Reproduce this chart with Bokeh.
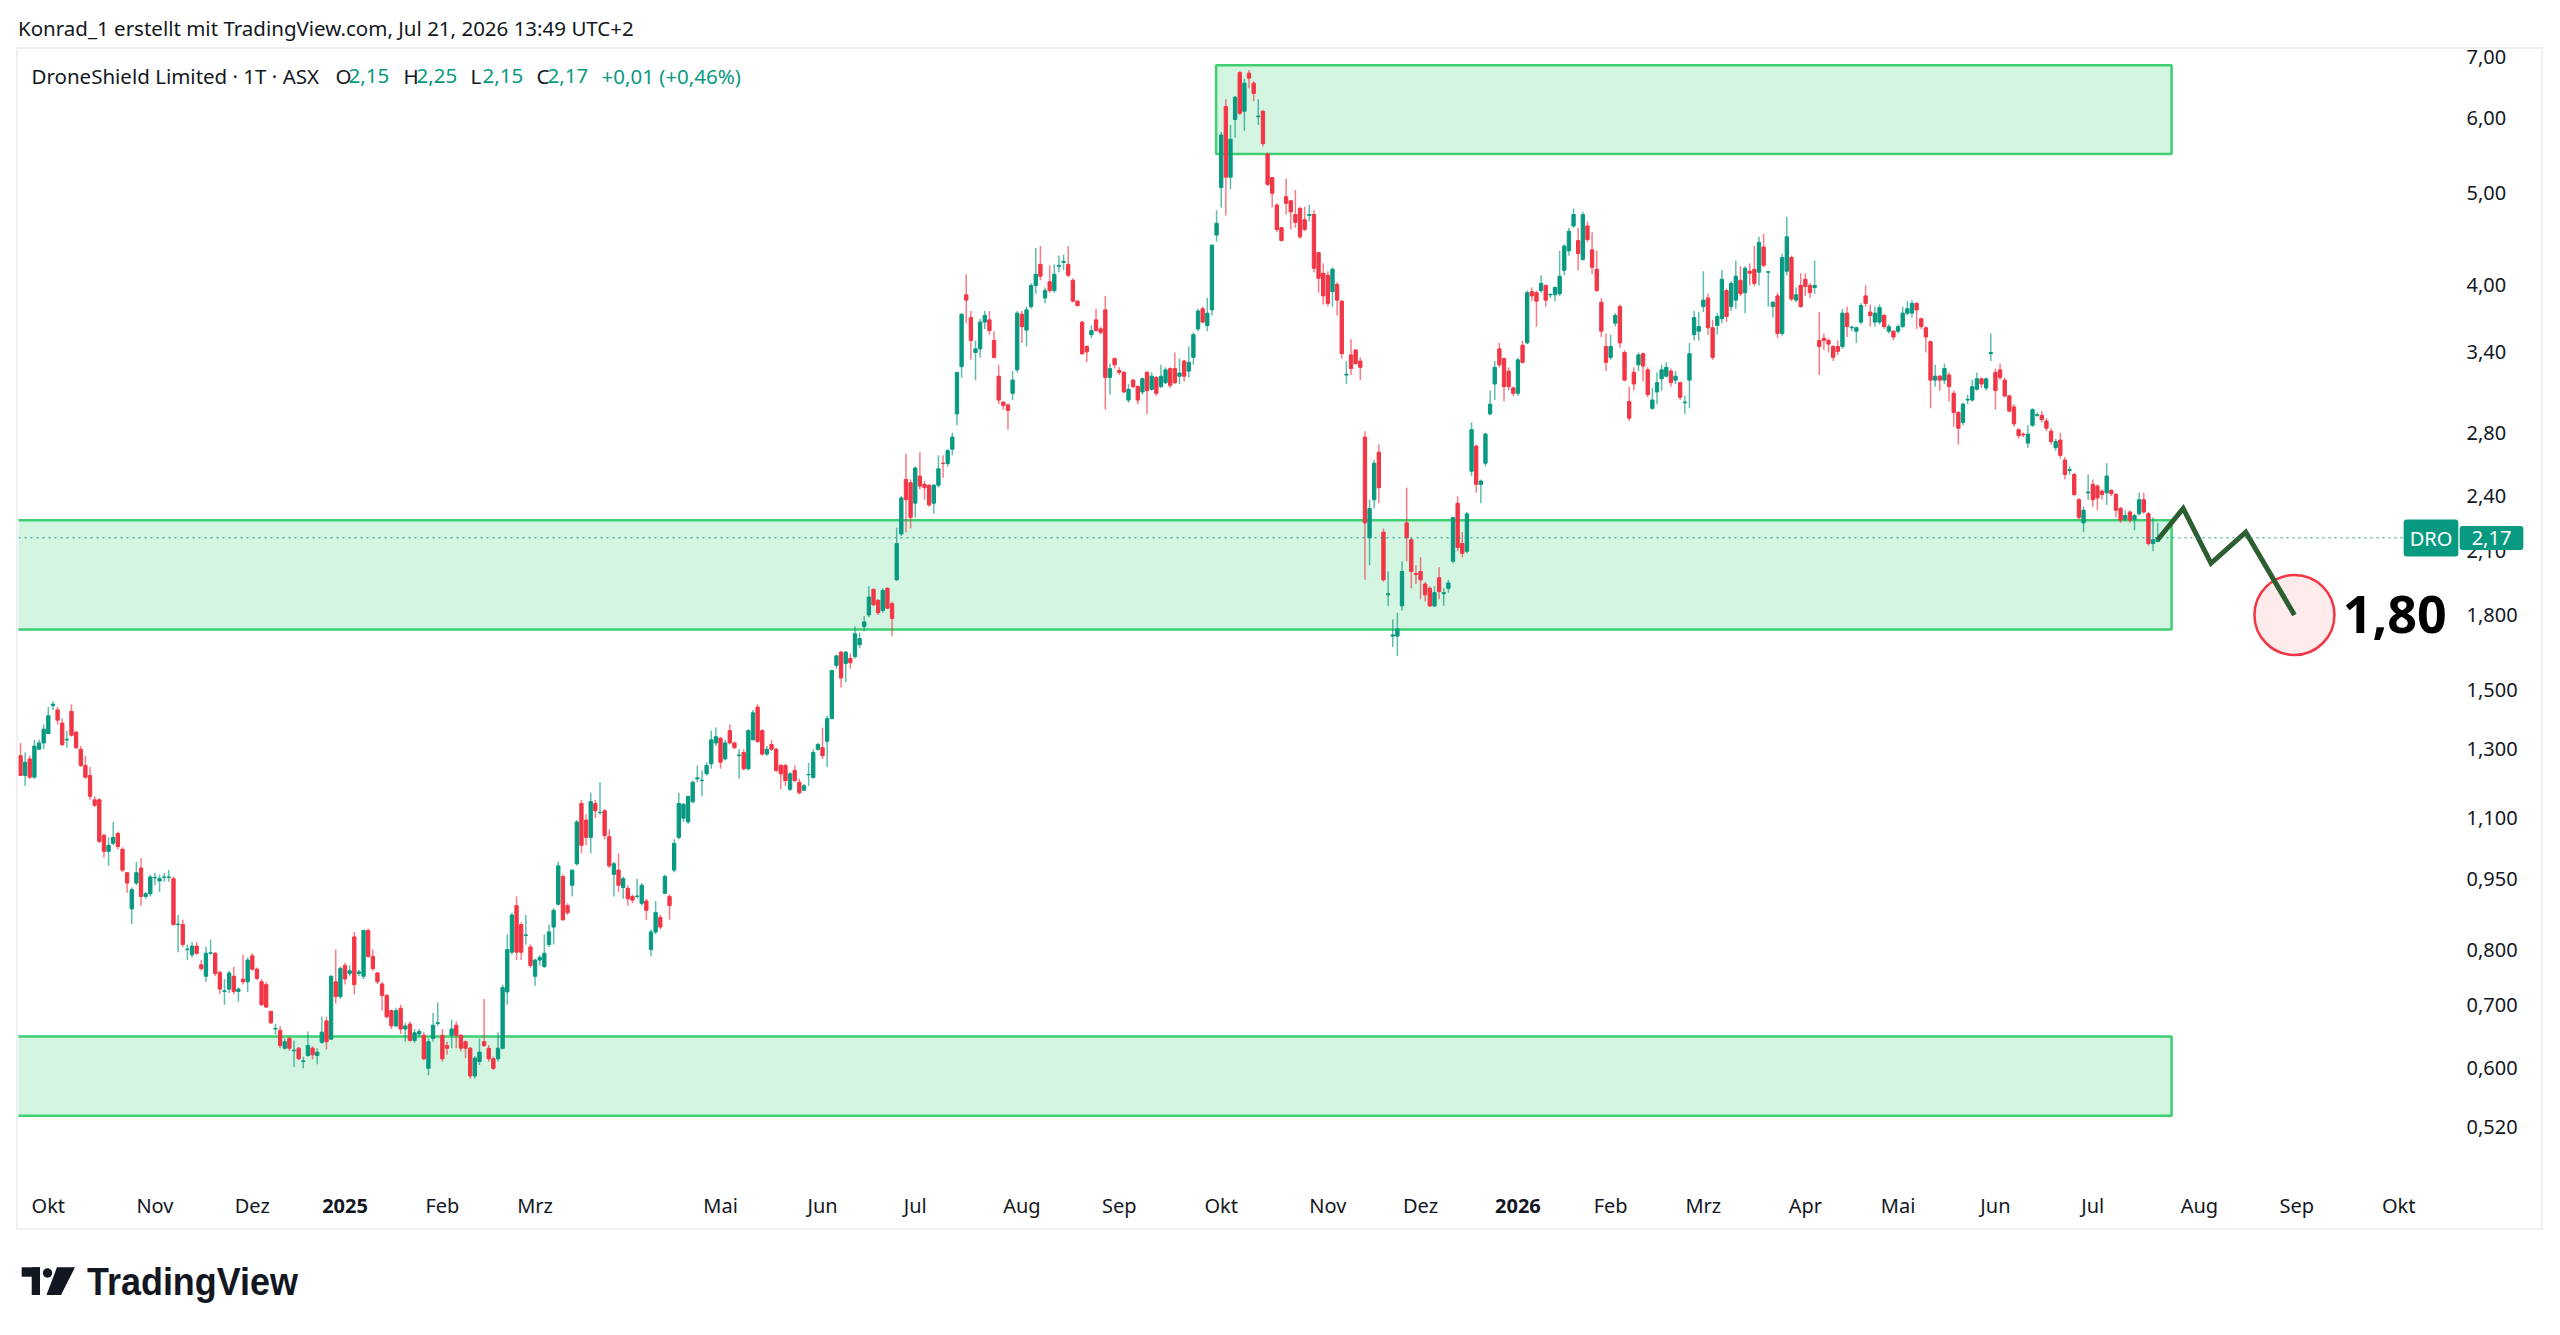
import numpy as np
import pandas as pd
from bokeh.plotting import figure
from bokeh.models import (Range1d, FixedTicker, CustomJSTickFormatter, Label, Span,
                          ColumnDataSource, Div)
from bokeh.layouts import column
from bokeh.embed import file_html
from bokeh.resources import INLINE
from bokeh.core.properties import value

# ---------------- data (daily OHLC, DroneShield, ASX) ----------------
opens = [
    1.28, 1.22, 1.27, 1.215, 1.30, 1.32, 1.35, 1.445, 1.43, 1.385,
    1.33, 1.425, 1.355, 1.30, 1.25, 1.22, 1.15, 1.15, 1.055, 1.015,
    1.035, 1.06, 1.02, 0.964, 0.883, 0.94, 0.975, 0.91, 0.916, 0.952,
    0.945, 0.953, 0.953, 0.95, 0.85, 0.85, 0.80, 0.79, 0.807, 0.771,
    0.75, 0.793, 0.793, 0.757, 0.723, 0.727, 0.75, 0.723, 0.745, 0.74,
    0.788, 0.763, 0.74, 0.735, 0.689, 0.66, 0.658, 0.63, 0.645, 0.626,
    0.63, 0.61, 0.619, 0.63, 0.619, 0.639, 0.673, 0.644, 0.74, 0.714,
    0.77, 0.755, 0.825, 0.755, 0.75, 0.838, 0.787, 0.756, 0.736, 0.716,
    0.69, 0.665, 0.694, 0.66, 0.668, 0.642,
    0.652, 0.65, 0.60, 0.645, 0.669, 0.65, 0.634, 0.65, 0.666, 0.65,
    0.64, 0.63, 0.589, 0.61, 0.64, 0.63, 0.614, 0.614, 0.63, 0.722,
    0.795, 0.89, 0.85, 0.828, 0.805, 0.75, 0.78, 0.768, 0.81, 0.845,
    0.893, 0.955, 0.89, 0.935, 0.985, 1.14, 1.095, 1.05, 1.14, 1.115,
    1.12, 1.052, 0.96, 0.97, 0.93, 0.928, 0.91, 0.91, 0.895, 0.90,
    0.80, 0.835, 0.865, 0.917, 0.91, 0.97, 1.05, 1.10, 1.09, 1.145,
    1.21, 1.205, 1.225, 1.255, 1.32, 1.335, 1.27, 1.36, 1.32, 1.28,
    1.29, 1.24, 1.33, 1.44, 1.36, 1.285, 1.315, 1.30, 1.25, 1.25,
    1.18, 1.235, 1.20,
    1.177, 1.222, 1.214, 1.30, 1.305, 1.325, 1.40, 1.593, 1.645, 1.60,
    1.62, 1.627, 1.675, 1.75, 1.80, 1.915, 1.865, 1.82, 1.92, 1.85,
    1.96, 2.19, 2.50, 2.48, 2.36, 2.52, 2.47, 2.465, 2.36, 2.465,
    2.60, 2.598, 2.69, 2.93, 3.285, 3.91, 3.70, 3.40, 3.43, 3.66,
    3.68, 3.50, 3.21, 3.015, 2.995, 3.08, 3.26, 3.73, 3.59, 3.80,
    4.00, 4.21, 3.88, 4.035, 3.95, 4.19, 4.23, 4.21, 4.05, 3.85,
    3.66, 3.45, 3.55, 3.68, 3.60, 3.77, 3.20, 3.35, 3.255, 3.24,
    3.03, 3.18, 3.13, 3.09, 3.24, 3.11, 3.20, 3.13, 3.16, 3.27,
    3.27, 3.21,
    3.33, 3.25, 3.36, 3.60, 3.78, 3.63, 3.77, 4.52, 5.07, 6.17,
    5.20, 5.98, 6.70, 6.10, 6.69, 6.53, 6.02, 6.10, 5.50, 5.195,
    4.86, 4.60, 4.96, 4.91, 4.75, 4.82, 4.69, 4.74, 4.75, 4.33,
    4.12, 4.10, 3.94, 4.01, 3.85, 3.22, 3.38, 3.42, 3.33, 2.77,
    2.17, 2.38, 2.67, 2.20, 1.89, 1.71, 1.71, 1.84, 2.25, 2.16,
    1.99, 2.00, 1.94, 1.92, 1.84, 1.97, 1.895, 1.92, 2.05, 2.36,
    2.14, 2.10, 2.55, 2.71, 2.47, 2.60, 2.93, 3.15, 3.43, 3.35,
    3.25, 3.12, 3.08, 3.46, 3.48, 3.94, 3.93, 3.95, 4.00, 3.91,
    3.91, 3.92,
    4.15, 4.35, 4.62, 4.46, 4.26, 4.62, 4.36, 4.16, 3.84, 3.45,
    3.36, 3.65, 3.80, 3.40, 3.02, 3.24, 3.30, 3.39, 3.26, 2.97,
    3.09, 3.19, 3.21, 3.25, 3.18, 3.16, 3.01, 3.18, 3.55, 3.58,
    3.80, 3.88, 3.61, 3.63, 3.69, 3.95, 3.80, 3.86, 4.05, 3.93,
    4.14, 4.16, 4.13, 4.39, 4.13, 3.80, 3.90, 3.56, 4.14, 4.28,
    3.86, 4.00, 4.06, 4.00, 3.98, 3.50, 3.52, 3.50, 3.45, 3.45,
    3.45, 3.74, 3.61, 3.58, 3.66, 3.90, 3.75, 3.66, 3.66, 3.72,
    3.58, 3.58, 3.58, 3.62, 3.74, 3.74, 3.83, 3.69, 3.61, 3.49,
    3.18, 3.21,
    3.18, 3.22, 3.08, 2.94, 2.87, 3.03, 3.03, 3.11, 3.19, 3.12,
    3.39, 3.24, 3.26, 3.18, 3.06, 2.98, 2.82, 2.79, 2.73, 2.85,
    2.92, 2.92, 2.88, 2.81, 2.70, 2.75, 2.62, 2.555, 2.53, 2.38,
    2.25, 2.42, 2.47, 2.46, 2.43, 2.42, 2.435, 2.41, 2.33, 2.27,
    2.31, 2.27, 2.30, 2.38, 2.30, 2.14, 2.15,
]
highs = [
    1.32, 1.29, 1.28, 1.33, 1.33, 1.38, 1.44, 1.46, 1.44, 1.40,
    1.36, 1.45, 1.36, 1.31, 1.28, 1.245, 1.16, 1.155, 1.06, 1.05,
    1.09, 1.065, 1.025, 0.965, 0.93, 0.989, 0.998, 0.92, 0.96, 0.963,
    0.96, 0.963, 0.97, 0.955, 0.87, 0.86, 0.81, 0.815, 0.815, 0.78,
    0.806, 0.82, 0.795, 0.76, 0.745, 0.76, 0.767, 0.73, 0.79, 0.785,
    0.793, 0.766, 0.745, 0.74, 0.69, 0.668, 0.665, 0.645, 0.648, 0.642,
    0.632, 0.617, 0.656, 0.633, 0.63, 0.68, 0.68, 0.752, 0.80, 0.768,
    0.775, 0.77, 0.835, 0.762, 0.84, 0.842, 0.80, 0.758, 0.74, 0.718,
    0.692, 0.695, 0.70, 0.67, 0.672, 0.66,
    0.66, 0.655, 0.645, 0.686, 0.704, 0.66, 0.64, 0.675, 0.672, 0.652,
    0.642, 0.632, 0.618, 0.645, 0.71, 0.635, 0.617, 0.655, 0.735, 0.83,
    0.875, 0.91, 0.855, 0.87, 0.81, 0.783, 0.79, 0.83, 0.85, 0.885,
    0.99, 0.96, 0.895, 0.97, 1.095, 1.15, 1.11, 1.17, 1.15, 1.20,
    1.125, 1.07, 0.99, 1.01, 0.955, 0.935, 0.915, 0.95, 0.94, 0.905,
    0.84, 0.90, 0.87, 0.96, 0.915, 1.045, 1.17, 1.14, 1.16, 1.205,
    1.25, 1.235, 1.26, 1.36, 1.37, 1.34, 1.33, 1.38, 1.325, 1.30,
    1.30, 1.365, 1.43, 1.45, 1.365, 1.31, 1.33, 1.305, 1.255, 1.255,
    1.23, 1.25, 1.21,
    1.195, 1.258, 1.30, 1.32, 1.37, 1.41, 1.575, 1.635, 1.65, 1.65,
    1.64, 1.75, 1.725, 1.795, 1.93, 1.92, 1.87, 1.92, 1.925, 1.86,
    2.225, 2.40, 2.66, 2.50, 2.58, 2.67, 2.49, 2.47, 2.47, 2.65,
    2.65, 2.69, 2.80, 3.24, 3.74, 4.11, 3.76, 3.50, 3.69, 3.76,
    3.76, 3.58, 3.30, 3.02, 3.00, 3.25, 3.76, 3.76, 3.80, 4.02,
    4.38, 4.40, 3.98, 4.20, 4.21, 4.30, 4.31, 4.40, 4.07, 3.86,
    3.67, 3.46, 3.63, 3.78, 3.62, 3.90, 3.31, 3.36, 3.28, 3.25,
    3.15, 3.19, 3.14, 3.20, 3.25, 3.24, 3.21, 3.30, 3.28, 3.28,
    3.40, 3.35,
    3.34, 3.45, 3.57, 3.78, 3.80, 3.88, 4.42, 4.80, 5.80, 6.28,
    5.90, 6.33, 6.72, 6.60, 6.74, 6.56, 6.28, 6.12, 5.52, 5.20,
    4.88, 4.61, 5.18, 4.92, 5.04, 4.84, 4.84, 4.86, 4.80, 4.34,
    4.22, 4.14, 4.18, 4.03, 3.86, 3.33, 3.51, 3.43, 3.36, 2.81,
    2.38, 2.62, 2.72, 2.22, 2.00, 1.78, 1.81, 2.05, 2.45, 2.17,
    2.03, 2.07, 1.95, 1.93, 1.93, 2.02, 1.92, 1.96, 2.28, 2.40,
    2.20, 2.31, 2.87, 2.72, 2.50, 2.80, 3.10, 3.33, 3.48, 3.36,
    3.28, 3.13, 3.36, 3.50, 3.95, 3.98, 3.95, 4.10, 4.01, 3.92,
    3.99, 4.35,
    4.42, 4.60, 4.82, 4.60, 4.78, 4.67, 4.55, 4.35, 3.88, 3.56,
    3.55, 3.74, 3.82, 3.42, 3.13, 3.28, 3.40, 3.40, 3.28, 3.12,
    3.24, 3.30, 3.32, 3.27, 3.25, 3.17, 3.06, 3.48, 3.76, 3.75,
    4.14, 3.92, 3.68, 3.74, 4.15, 3.97, 4.04, 4.25, 4.19, 4.19,
    4.22, 4.40, 4.50, 4.53, 4.14, 3.85, 3.93, 4.32, 4.72, 4.30,
    3.98, 4.12, 4.12, 4.02, 4.25, 3.75, 3.56, 3.52, 3.46, 3.50,
    3.78, 3.80, 3.63, 3.62, 3.83, 4.00, 3.82, 3.80, 3.82, 3.73,
    3.64, 3.59, 3.64, 3.80, 3.85, 3.86, 3.84, 3.70, 3.62, 3.50,
    3.30, 3.22,
    3.31, 3.24, 3.10, 2.95, 3.01, 3.07, 3.18, 3.24, 3.20, 3.20,
    3.56, 3.27, 3.31, 3.20, 3.07, 3.00, 2.83, 2.80, 2.85, 2.97,
    2.94, 2.95, 2.90, 2.83, 2.76, 2.80, 2.64, 2.58, 2.54, 2.39,
    2.34, 2.53, 2.50, 2.47, 2.44, 2.60, 2.44, 2.42, 2.34, 2.32,
    2.32, 2.30, 2.42, 2.42, 2.31, 2.28, 2.25,
]
lows = [
    1.22, 1.19, 1.21, 1.21, 1.30, 1.30, 1.35, 1.43, 1.38, 1.31,
    1.305, 1.34, 1.30, 1.245, 1.21, 1.15, 1.13, 1.035, 1.00, 0.98,
    1.03, 1.02, 0.965, 0.918, 0.851, 0.935, 0.89, 0.905, 0.91, 0.935,
    0.92, 0.943, 0.943, 0.848, 0.795, 0.805, 0.78, 0.785, 0.79, 0.76,
    0.74, 0.79, 0.75, 0.718, 0.70, 0.72, 0.718, 0.705, 0.735, 0.722,
    0.76, 0.743, 0.698, 0.695, 0.668, 0.651, 0.63, 0.628, 0.626, 0.602,
    0.612, 0.60, 0.617, 0.613, 0.606, 0.637, 0.628, 0.643, 0.702, 0.71,
    0.735, 0.75, 0.718, 0.75, 0.745, 0.785, 0.76, 0.736, 0.69, 0.677,
    0.66, 0.663, 0.652, 0.64, 0.64, 0.638,
    0.648, 0.612, 0.59, 0.64, 0.665, 0.61, 0.62, 0.63, 0.63, 0.625,
    0.615, 0.585, 0.585, 0.605, 0.632, 0.61, 0.598, 0.61, 0.628, 0.70,
    0.79, 0.78, 0.78, 0.81, 0.765, 0.733, 0.77, 0.765, 0.805, 0.81,
    0.89, 0.858, 0.87, 0.91, 0.98, 1.01, 1.03, 1.01, 1.10, 1.11,
    1.045, 0.975, 0.91, 0.92, 0.905, 0.89, 0.895, 0.905, 0.89, 0.86,
    0.787, 0.83, 0.84, 0.915, 0.86, 0.965, 1.045, 1.09, 1.085, 1.14,
    1.20, 1.16, 1.22, 1.24, 1.31, 1.24, 1.265, 1.315, 1.30, 1.21,
    1.235, 1.235, 1.33, 1.32, 1.28, 1.28, 1.295, 1.23, 1.18, 1.19,
    1.175, 1.20, 1.165,
    1.175, 1.19, 1.21, 1.295, 1.27, 1.245, 1.40, 1.58, 1.51, 1.53,
    1.58, 1.62, 1.66, 1.73, 1.79, 1.84, 1.80, 1.81, 1.825, 1.71,
    1.955, 2.18, 2.20, 2.22, 2.28, 2.44, 2.38, 2.34, 2.30, 2.45,
    2.51, 2.58, 2.65, 2.85, 3.20, 3.65, 3.34, 3.18, 3.36, 3.60,
    3.55, 3.35, 3.00, 2.96, 2.82, 3.03, 3.24, 3.48, 3.45, 3.78,
    3.92, 4.05, 3.83, 3.93, 3.93, 4.13, 4.15, 4.08, 3.84, 3.80,
    3.38, 3.32, 3.52, 3.58, 3.55, 2.96, 3.07, 3.27, 3.22, 3.08,
    3.01, 3.12, 3.00, 3.07, 2.93, 3.10, 3.06, 3.12, 3.15, 3.12,
    3.15, 3.15,
    3.17, 3.20, 3.30, 3.58, 3.65, 3.58, 3.72, 4.45, 4.83, 4.74,
    5.05, 5.72, 6.05, 5.82, 6.45, 6.25, 5.90, 5.60, 5.09, 4.83,
    4.55, 4.45, 4.75, 4.58, 4.60, 4.48, 4.56, 4.67, 4.13, 3.93,
    3.82, 3.80, 3.80, 3.72, 3.35, 3.15, 3.22, 3.30, 3.18, 1.96,
    2.03, 2.33, 2.36, 1.95, 1.84, 1.665, 1.63, 1.82, 2.05, 1.92,
    1.94, 1.87, 1.86, 1.835, 1.835, 1.87, 1.84, 1.90, 2.04, 2.10,
    2.07, 2.09, 2.52, 2.42, 2.36, 2.58, 2.92, 3.03, 3.28, 3.02,
    3.10, 3.06, 3.06, 3.31, 3.47, 3.85, 3.62, 3.93, 3.80, 3.88,
    3.85, 3.90,
    4.10, 4.30, 4.60, 4.15, 4.25, 4.44, 4.11, 3.94, 3.53, 3.25,
    3.34, 3.62, 3.44, 3.17, 2.88, 3.10, 3.25, 3.17, 3.05, 2.96,
    3.00, 3.10, 3.20, 3.13, 3.15, 3.03, 2.93, 2.97, 3.50, 3.50,
    3.75, 3.55, 3.34, 3.55, 3.65, 3.66, 3.76, 3.78, 3.90, 3.74,
    4.00, 3.99, 4.00, 4.18, 3.80, 3.70, 3.52, 3.54, 4.10, 3.85,
    3.84, 3.79, 3.90, 3.88, 3.92, 3.22, 3.42, 3.40, 3.33, 3.38,
    3.43, 3.53, 3.58, 3.48, 3.64, 3.80, 3.62, 3.62, 3.64, 3.60,
    3.56, 3.50, 3.56, 3.61, 3.72, 3.70, 3.60, 3.60, 3.40, 2.97,
    3.13, 3.10,
    3.15, 3.02, 2.84, 2.72, 2.85, 3.00, 3.02, 3.10, 3.12, 3.10,
    3.33, 2.96, 3.18, 3.05, 2.94, 2.84, 2.76, 2.77, 2.70, 2.84,
    2.91, 2.87, 2.81, 2.72, 2.68, 2.63, 2.50, 2.53, 2.40, 2.27,
    2.20, 2.38, 2.34, 2.32, 2.38, 2.35, 2.40, 2.28, 2.25, 2.26,
    2.25, 2.21, 2.29, 2.30, 2.13, 2.10, 2.15,
]
closes = [
    1.22, 1.26, 1.215, 1.31, 1.32, 1.365, 1.41, 1.45, 1.395, 1.315,
    1.332, 1.345, 1.305, 1.25, 1.215, 1.16, 1.135, 1.04, 1.015, 1.03,
    1.05, 1.027, 0.97, 0.94, 0.925, 0.964, 0.91, 0.916, 0.954, 0.953,
    0.95, 0.954, 0.954, 0.85, 0.851, 0.81, 0.801, 0.807, 0.793, 0.764,
    0.793, 0.794, 0.755, 0.727, 0.724, 0.756, 0.723, 0.727, 0.74, 0.78,
    0.763, 0.746, 0.70, 0.696, 0.67, 0.661, 0.634, 0.64, 0.63, 0.627,
    0.614, 0.611, 0.634, 0.62, 0.624, 0.655, 0.64, 0.75, 0.714, 0.764,
    0.745, 0.76, 0.735, 0.758, 0.838, 0.787, 0.764, 0.74, 0.716, 0.68,
    0.665, 0.69, 0.66, 0.665, 0.642, 0.654,
    0.656, 0.614, 0.64, 0.666, 0.67, 0.614, 0.63, 0.66, 0.65, 0.63,
    0.63, 0.589, 0.615, 0.624, 0.634, 0.614, 0.60, 0.63, 0.73, 0.80,
    0.87, 0.795, 0.795, 0.829, 0.77, 0.78, 0.785, 0.793, 0.835, 0.88,
    0.98, 0.86, 0.875, 0.97, 1.09, 1.03, 1.05, 1.145, 1.12, 1.116,
    1.055, 0.98, 0.985, 0.935, 0.95, 0.905, 0.902, 0.911, 0.935, 0.88,
    0.835, 0.875, 0.845, 0.955, 0.89, 1.035, 1.14, 1.138, 1.16, 1.20,
    1.213, 1.206, 1.25, 1.33, 1.34, 1.26, 1.32, 1.32, 1.305, 1.282,
    1.24, 1.36, 1.42, 1.325, 1.285, 1.30, 1.30, 1.235, 1.225, 1.205,
    1.225, 1.205, 1.17,
    1.19, 1.223, 1.29, 1.315, 1.28, 1.40, 1.573, 1.63, 1.545, 1.645,
    1.603, 1.72, 1.70, 1.77, 1.88, 1.845, 1.81, 1.91, 1.83, 1.785,
    2.14, 2.39, 2.38, 2.28, 2.57, 2.46, 2.45, 2.35, 2.465, 2.565,
    2.598, 2.68, 2.77, 3.24, 3.73, 3.86, 3.50, 3.43, 3.66, 3.72,
    3.585, 3.36, 3.03, 2.99, 2.955, 3.18, 3.74, 3.62, 3.77, 4.00,
    4.11, 4.09, 3.95, 3.95, 4.11, 4.20, 4.24, 4.10, 3.85, 3.81,
    3.39, 3.405, 3.585, 3.585, 3.57, 3.20, 3.27, 3.30, 3.24, 3.09,
    3.11, 3.13, 3.03, 3.19, 3.10, 3.21, 3.08, 3.21, 3.26, 3.14,
    3.16, 3.235,
    3.21, 3.32, 3.55, 3.76, 3.66, 3.74, 4.41, 4.65, 5.76, 5.20,
    5.70, 6.31, 6.07, 6.53, 6.61, 6.37, 6.03, 5.64, 5.11, 5.00,
    4.58, 4.46, 4.88, 4.78, 4.66, 4.50, 4.58, 4.75, 4.17, 4.07,
    3.90, 3.83, 4.16, 3.86, 3.39, 3.225, 3.27, 3.31, 3.28, 2.25,
    2.33, 2.60, 2.45, 1.96, 1.895, 1.715, 1.74, 2.00, 2.17, 2.00,
    1.985, 1.96, 1.89, 1.84, 1.90, 1.905, 1.90, 1.945, 2.28, 2.12,
    2.09, 2.30, 2.82, 2.47, 2.49, 2.79, 3.00, 3.28, 3.30, 3.13,
    3.13, 3.08, 3.34, 3.32, 3.93, 3.90, 3.85, 4.02, 3.86, 3.915,
    3.98, 4.09,
    4.40, 4.56, 4.75, 4.32, 4.75, 4.47, 4.18, 3.95, 3.58, 3.32,
    3.45, 3.72, 3.48, 3.18, 2.90, 3.15, 3.38, 3.29, 3.07, 3.03,
    3.16, 3.26, 3.28, 3.16, 3.21, 3.05, 3.015, 3.39, 3.70, 3.62,
    3.86, 3.61, 3.36, 3.71, 4.06, 3.71, 4.02, 4.09, 3.92, 4.17,
    4.12, 4.02, 4.44, 4.20, 4.135, 3.84, 3.56, 4.28, 4.50, 3.87,
    3.91, 3.80, 3.99, 3.93, 4.00, 3.45, 3.50, 3.47, 3.36, 3.41,
    3.74, 3.62, 3.615, 3.61, 3.81, 3.83, 3.72, 3.74, 3.79, 3.62,
    3.62, 3.53, 3.62, 3.74, 3.78, 3.83, 3.77, 3.62, 3.53, 3.18,
    3.21, 3.18,
    3.27, 3.13, 2.94, 2.83, 3.00, 3.035, 3.13, 3.19, 3.15, 3.19,
    3.40, 3.10, 3.20, 3.06, 2.95, 2.86, 2.78, 2.785, 2.79, 2.96,
    2.925, 2.89, 2.83, 2.74, 2.74, 2.65, 2.53, 2.56, 2.41, 2.28,
    2.32, 2.425, 2.38, 2.39, 2.41, 2.52, 2.415, 2.32, 2.265, 2.29,
    2.265, 2.29, 2.38, 2.31, 2.14, 2.16, 2.17,
]

first_session = "2024-09-23"
origin_session = "2024-10-01"          # bar 0 on the x axis
holidays = ["2024-12-25", "2024-12-26", "2025-01-01", "2025-01-27", "2025-04-18",
            "2025-04-21", "2025-04-25", "2025-06-09", "2025-12-25", "2025-12-26",
            "2026-01-01", "2026-01-26", "2026-04-03", "2026-04-06", "2026-06-08"]

month_dates = ["2024-10-01", "2024-11-01", "2024-12-01", "2025-01-01", "2025-02-01",
               "2025-03-01", "2025-05-01", "2025-06-01", "2025-07-01", "2025-08-01",
               "2025-09-01", "2025-10-01", "2025-11-01", "2025-12-01", "2026-01-01",
               "2026-02-01", "2026-03-01", "2026-04-01", "2026-05-01", "2026-06-01",
               "2026-07-01", "2026-08-01", "2026-09-01", "2026-10-01"]
month_labels = ["Okt", "Nov", "Dez", "2025", "Feb", "Mrz", "Mai", "Jun", "Jul", "Aug",
                "Sep", "Okt", "Nov", "Dez", "2026", "Feb", "Mrz", "Apr", "Mai", "Jun",
                "Jul", "Aug", "Sep", "Okt"]
year_labels = ["2025", "2026"]

y_ticks = [0.52, 0.6, 0.7, 0.8, 0.95, 1.1, 1.3, 1.5, 1.8, 2.1, 2.4, 2.8, 3.4, 4.0, 5.0, 6.0, 7.0]
y_tick_labels = ["0,520", "0,600", "0,700", "0,800", "0,950", "1,100", "1,300", "1,500",
                 "1,800", "2,10", "2,40", "2,80", "3,40", "4,00", "5,00", "6,00", "7,00"]

# zones (x in bars from 2024-10-01, y in price)
zone_left = [251.9, -14.0, -14.0]
zone_right = [458.0, 458.0, 458.0]
zone_top = [6.82, 2.265, 0.648]
zone_bottom = [5.50, 1.738, 0.535]

# projected path and target
proj_bar = [455, 460.5, 466.5, 474, 484.5]
proj_price = [2.16, 2.33, 2.04, 2.20, 1.80]
target_bar = [484.5]
target_price = [1.80]
target_text_bar = [494.9]
target_label = ["1,80"]

symbol = "DRO"
title_text = "DroneShield Limited · 1T · ASX"
header_text = "Konrad_1 erstellt mit TradingView.com, Jul 21, 2026 13:49 UTC+2"

# ---------------- calendar ----------------
cal = pd.bdate_range(first_session, "2026-10-31")
cal = cal[~cal.isin(pd.to_datetime(holidays))]
origin = int(cal.searchsorted(pd.Timestamp(origin_session)))
n = len(closes)
bar_x = (np.arange(n) - origin).astype(float)
tick_x = [int(cal.searchsorted(pd.Timestamp(d))) - origin for d in month_dates]
axis_labs = ["" if l in year_labels else l for l in month_labels]

UP, DOWN, DARK = "#089981", "#f23645", "#131722"
o = np.array(opens); c = np.array(closes)
colors = [UP if cc >= oo else DOWN for oo, cc in zip(o, c)]
src = ColumnDataSource(dict(x=bar_x, high=highs, low=lows, top=np.maximum(o, c),
                            bottom=np.minimum(o, c), color=colors))

# frame spans the whole chart box; the price and time scales are drawn inside it
FW, FH = 2507, 1169
p = figure(width=2523, height=1179, x_range=Range1d(-6.43, -6.43 + FW / 4.636),
           y_range=Range1d(0.417, 7.085), y_axis_type="log", y_axis_location="right",
           output_backend="svg", toolbar_location=None, title=None,
           min_border_left=0, min_border_right=16, min_border_top=0, min_border_bottom=10,
           styles={"outline": "2px solid #eef0f3"})
p.grid.visible = False
p.outline_line_color = None
p.background_fill_color = "white"
p.border_fill_color = "white"

# zones
p.quad(left=zone_left, right=zone_right, top=zone_top, bottom=zone_bottom,
       fill_color="#d4f5e2", fill_alpha=1.0, line_color="#3dcf70", line_width=2.5)

# candles
p.segment(x0="x", y0="high", x1="x", y1="low", source=src, line_color="color",
          line_alpha=0.65, line_width=1.5)
p.vbar(x="x", width=0.72, top="top", bottom="bottom", source=src,
       fill_color="color", line_color="color", line_width=1)

# last price line
p.add_layout(Span(location=closes[-1], dimension="width", line_color=UP,
                  line_dash="2 4", line_width=1))

# target circle, projection, label
p.scatter(x=target_bar, y=target_price, size=80, marker="circle", fill_color=DOWN,
          fill_alpha=0.1, line_color=DOWN, line_width=2.5)
p.line(x=proj_bar, y=proj_price, line_color="#2d5e31", line_width=5, line_join="miter")
p.text(x=target_text_bar, y=target_price, text=target_label, text_font=value("Noto Sans"),
       text_font_style="bold", text_font_size="52px", text_color="#000000",
       text_baseline="middle", text_align="left")

# axes
for ax in (p.xaxis[0], p.yaxis[0]):
    ax.axis_line_color = None
    ax.major_tick_line_color = None
    ax.minor_tick_line_color = None
    ax.major_tick_out = 0
    ax.major_tick_in = 0
    ax.major_label_text_font = "Noto Sans"
    ax.major_label_text_font_size = "20px"
    ax.major_label_text_color = DARK
p.xaxis.ticker = FixedTicker(ticks=tick_x)
p.xaxis.formatter = CustomJSTickFormatter(args=dict(xs=tick_x, labs=axis_labs), code="""
    const k = xs.indexOf(Math.round(tick));
    return k >= 0 ? labs[k] : "";
""")
p.xaxis.major_label_standoff = -27
p.yaxis.ticker = FixedTicker(ticks=y_ticks)
p.yaxis.formatter = CustomJSTickFormatter(args=dict(vs=y_ticks, labs=y_tick_labels), code="""
    let b = 0, d = Infinity;
    for (let k = 0; k < vs.length; k++) {
        const e = Math.abs(Math.log(vs[k]) - Math.log(tick));
        if (e < d) { d = e; b = k; }
    }
    return labs[b];
""")
p.yaxis.major_label_standoff = -59

# bold year labels on the time axis
for xv, lab in zip(tick_x, month_labels):
    if lab in year_labels:
        p.add_layout(Label(x=xv, y=13, x_units="data", y_units="screen", text=lab,
                           text_font="Noto Sans", text_font_size="20px",
                           text_font_style="bold", text_color=DARK,
                           text_align="center", text_baseline="middle"))

# legend line (OHLC of the last bar)
def de(v):
    return f"{v:.2f}".replace(".", ",")
chg = closes[-1] - closes[-2]
pct = chg / closes[-2] * 100
legend_parts = [
    (title_text, 13, DARK), ("O", 317, DARK), (de(opens[-1]), 330, UP),
    ("H", 385, DARK), (de(highs[-1]), 398, UP), ("L", 452, DARK), (de(lows[-1]), 464, UP),
    ("C", 518, DARK), (de(closes[-1]), 529, UP),
    (f"{'+' if chg >= 0 else ''}{de(chg)} ({'+' if pct >= 0 else ''}{pct:.2f}%)".replace(".", ","), 583, UP),
]
for txt, xx, col in legend_parts:
    p.add_layout(Label(x=xx, y=FH - 26, x_units="screen", y_units="screen", text=txt,
                       text_font="Noto Sans", text_font_size="20.5px", text_color=col,
                       text_align="left", text_baseline="middle"))

# price tag
yy = FH - (537.5 - 49)
p.add_layout(Label(x=2412.5, y=yy, x_units="screen", y_units="screen", text=symbol,
                   text_font="Noto Sans", text_font_size="20px", text_color="white",
                   text_align="center", text_baseline="middle",
                   background_fill_color=UP, padding=(6, 5), border_radius=3))
p.add_layout(Label(x=2473, y=yy, x_units="screen", y_units="screen", text=de(closes[-1]),
                   text_font="Noto Sans", text_font_size="20px", text_color="white",
                   text_align="center", text_baseline="middle",
                   background_fill_color=UP, padding=(12, 5), border_radius=3))

header = Div(text=('<div style="font-family:\'Noto Sans\'; font-size:20.5px; color:#131722; '
                   'line-height:40px; padding-left:10px; white-space:nowrap;">'
                   + header_text + '</div>'), width=2544, height=41, margin=(0, 0, 0, 0))

logo_svg = (
    '<svg width="420" height="99" xmlns="http://www.w3.org/2000/svg">'
    '<rect x="13.7" y="39.3" width="18.3" height="9.4" fill="#131722"/>'
    '<rect x="23.7" y="39.3" width="8.3" height="27.7" fill="#131722"/>'
    '<circle cx="39.5" cy="45" r="4.7" fill="#131722"/>'
    '<polygon points="49,39.3 67,39.3 53,67 38.5,67" fill="#131722"/>'
    '<text x="79" y="67" font-family="Inter" font-weight="700" font-size="38" '
    'textLength="211" lengthAdjust="spacingAndGlyphs" fill="#131722">TradingView</text>'
    '</svg>')
footer = Div(text=logo_svg, width=2544, height=99, margin=(0, 0, 0, 0))

p.margin = (0, 0, 0, 10)
layout = column(header, p, footer, spacing=0, margin=(8, 0, 0, 8))
open("out.html", "w").write(file_html(layout, INLINE, title="DroneShield DRO"))
